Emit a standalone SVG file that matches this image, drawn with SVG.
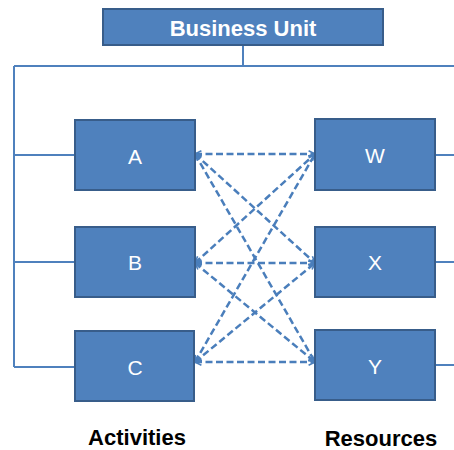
<svg xmlns="http://www.w3.org/2000/svg" width="454" height="450" viewBox="0 0 454 450">
<style>
.box{fill:#4F81BD;stroke:#385D8A;stroke-width:2}
.t{font-family:"Liberation Sans",Arial,sans-serif;fill:#fff;font-size:21px;text-anchor:middle}
.bt{font-family:"Liberation Sans",Arial,sans-serif;font-weight:bold;font-size:22px;text-anchor:middle}
.ln{fill:none;stroke:#4F81BD;stroke-width:2}
.dl{fill:none;stroke:#4A7EBB;stroke-width:2.5;stroke-dasharray:7 3.5;marker-start:url(#ah);marker-end:url(#ah)}
</style>
<defs>
<marker id="ah" viewBox="0 0 10 10" refX="9" refY="5" markerWidth="3.2" markerHeight="3.2" orient="auto-start-reverse" markerUnits="strokeWidth">
<polyline points="1,1 9,5 1,9" fill="none" stroke="#4A7EBB" stroke-width="2"/>
</marker>
</defs>
<rect width="454" height="450" fill="#fff"/>
<g id="connectors">
<path class="ln" d="M243 45V66M14 66H454M14 66V367M14 155H75M14 262H75M14 367H75M435 155H454M435 262H454M435 365H454"/>
<line class="dl" x1="195" y1="154" x2="315" y2="154"/>
<line class="dl" x1="195" y1="154" x2="315" y2="263"/>
<line class="dl" x1="195" y1="154" x2="315" y2="362"/>
<line class="dl" x1="195" y1="263" x2="315" y2="154"/>
<line class="dl" x1="195" y1="263" x2="315" y2="263"/>
<line class="dl" x1="195" y1="263" x2="315" y2="362"/>
<line class="dl" x1="195" y1="362" x2="315" y2="154"/>
<line class="dl" x1="195" y1="362" x2="315" y2="263"/>
<line class="dl" x1="195" y1="362" x2="315" y2="362"/>
</g>
<g id="business-unit"><rect class="box" x="103" y="9" width="280" height="36"/><text class="t" x="243" y="36" style="font-weight:bold;font-size:22px">Business Unit</text></g>
<g id="A"><rect class="box" x="75" y="120" width="120" height="70"/><text class="t" x="135" y="164">A</text></g>
<g id="B"><rect class="box" x="75" y="227" width="120" height="70"/><text class="t" x="135" y="270">B</text></g>
<g id="C"><rect class="box" x="75" y="331" width="119" height="70"/><text class="t" x="135" y="375">C</text></g>
<g id="W"><rect class="box" x="315" y="119" width="120" height="71"/><text class="t" x="375" y="163">W</text></g>
<g id="X"><rect class="box" x="315" y="227" width="120" height="70"/><text class="t" x="375" y="270">X</text></g>
<g id="Y"><rect class="box" x="315" y="330" width="120" height="70"/><text class="t" x="375" y="374">Y</text></g>
<g id="labels"><text class="bt" x="137" y="445">Activities</text><text class="bt" x="381" y="446">Resources</text></g>
</svg>
